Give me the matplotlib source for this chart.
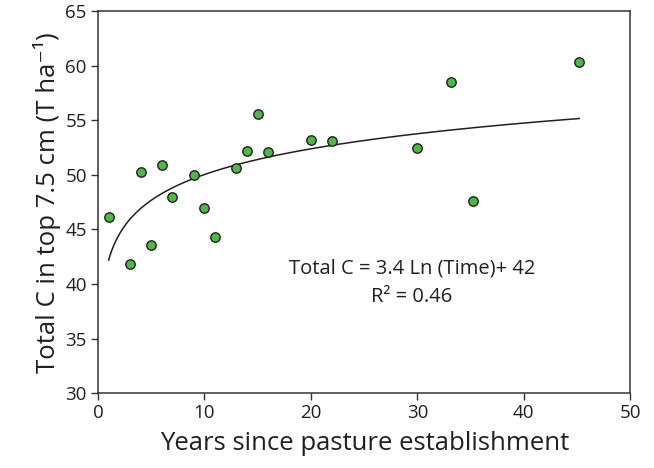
import numpy as np
import matplotlib.pyplot as plt

plt.rcParams['font.family'] = ['Open Sans', 'DejaVu Sans']

# years since establishment and total C (T/ha)
years = [1, 3, 4, 5, 6, 7, 9, 10, 11, 13, 14, 15, 16, 20, 22, 30, 33.2, 35.2, 45.2]
total_c = [46.1, 41.8, 50.3, 43.6, 50.9, 48.0, 50.0, 47.0, 44.3, 50.6, 52.2, 55.6,
           52.1, 53.2, 53.1, 52.5, 58.5, 47.6, 60.35]

# log fit as given on the chart
slope = 3.4
intercept = 42.2

txt_col = '#231f20'
fig = plt.figure(figsize=(6.54, 4.68), dpi=100)
ax = fig.add_axes([0.1498, 0.1596, 0.8140, 0.8169])

t = np.linspace(min(years), max(years), 300)
ax.plot(t, slope * np.log(t) + intercept, color='#231f20', lw=1.1, zorder=2)
ax.scatter(years, total_c, s=46, color='#4cb944', edgecolors='#231f20',
           linewidths=1.0, zorder=3)

ax.set_xlim(0, 50)
ax.set_ylim(30, 65)
ax.set_xticks(range(0, 51, 10))
ax.set_yticks(range(30, 66, 5))
ax.tick_params(direction='out', length=5, width=1, color='#333333',
               labelsize=13.5, labelcolor=txt_col, pad=3)
for s in ax.spines.values():
    s.set_color('#333333')
    s.set_linewidth(1.1)

ax.set_xlabel('Years since pasture establishment', fontsize=18.5, color=txt_col, labelpad=6)
ax.set_ylabel('Total C in top 7.5 cm (T ha\u207b\u00b9)', fontsize=18.5, color=txt_col, labelpad=3)

ax.text(29.5, 40.97, 'Total C = 3.4 Ln (Time)+ 42', ha='center', va='baseline',
        fontsize=14.5, color=txt_col)
ax.text(29.5, 38.37, 'R\u00b2 = 0.46', ha='center', va='baseline',
        fontsize=14.5, color=txt_col)

fig.savefig('out.png', dpi=100)
